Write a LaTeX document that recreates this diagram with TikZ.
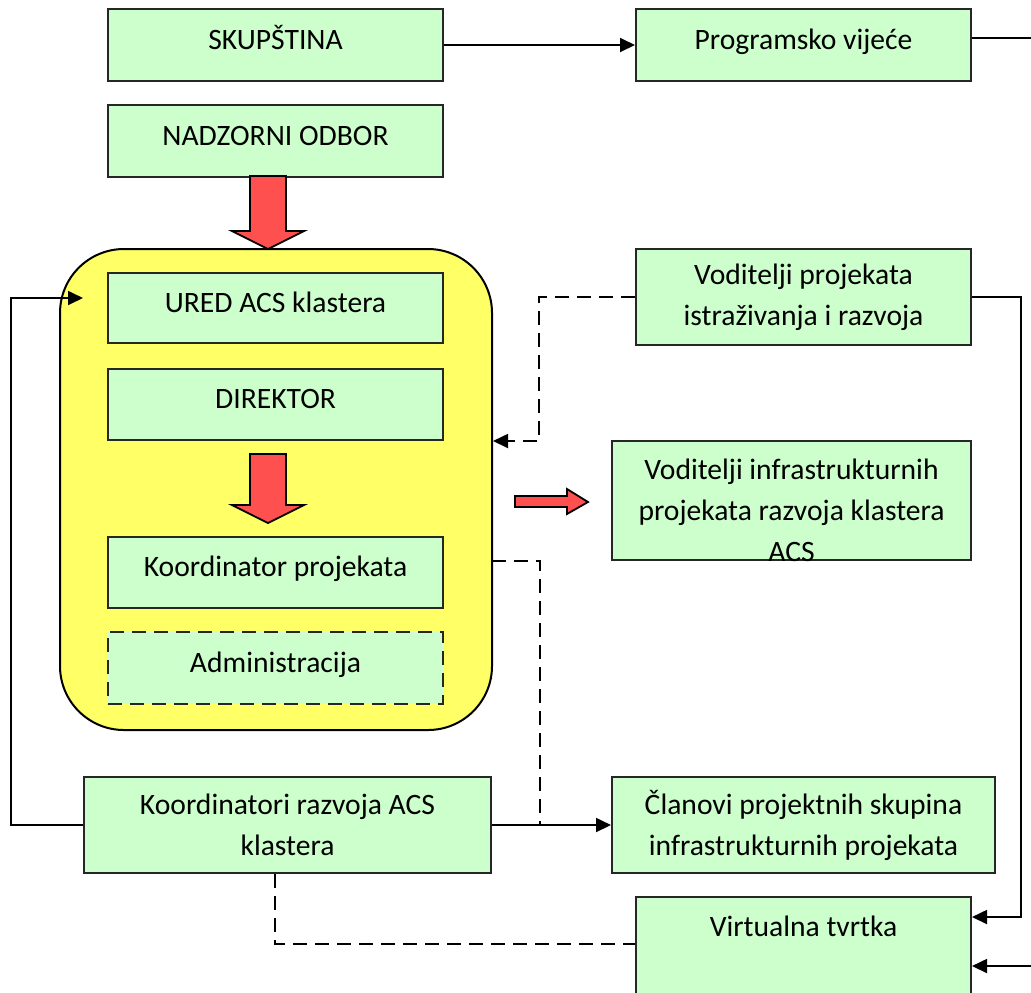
\documentclass[tikz,border=0pt]{standalone}
\usepackage{fontspec}
\setmainfont{Carlito}
\usetikzlibrary{arrows.meta}
\definecolor{boxgreen}{HTML}{CCFFCC}
\definecolor{officeyellow}{HTML}{FFFF66}
\definecolor{arrowred}{HTML}{FF5050}
\tikzset{
	box/.style={draw=black!85,line width=1pt,fill=boxgreen,minimum width=167.5pt,align=center,inner sep=2pt},
	oneline/.style={box,text height=10pt,text depth=6pt},
	link/.style={line width=.9pt},
	tip/.style={-{Triangle[length=7.5pt,width=7pt]}},
	dashlink/.style={link,dash pattern=on 7pt off 4pt},
	bigarrow/.style={draw=black,line width=.9pt,fill=arrowred,line join=miter}
}
\begin{document}
\begin{tikzpicture}[x=.5pt,y=-.5pt,font=\fontsize{14.8}{20.5}\selectfont]
	\useasboundingbox (0,0) rectangle (1031,992);
	\clip (0,0) rectangle (1031,992);
	% top row
	\node[oneline,minimum height=36pt] (skup) at (275.5,45) {SKUPŠTINA};
	\node[oneline,minimum height=36pt] (program) at (803.5,45) {Programsko vijeće};
	\node[oneline,minimum height=36pt] (nadzor) at (275.5,141) {NADZORNI ODBOR};
	% office
	\node[draw=black,line width=1pt,fill=officeyellow,rounded corners=32pt,minimum width=216pt,minimum height=240.5pt] (office) at (276,489.5) {};
	\node[oneline,minimum height=35pt] (ured) at (275.5,308) {URED ACS klastera};
	\node[oneline,minimum height=35.5pt] (direktor) at (275.5,404.5) {DIREKTOR};
	\node[oneline,minimum height=35.5pt] (koordp) at (275.5,572.5) {Koordinator projekata};
	\node[oneline,dash pattern=on 7pt off 4pt,minimum height=36pt] (admin) at (275.5,668) {Administracija};
	% right column
	\node[box,minimum height=48pt] (vodir) at (803.5,297) {Voditelji projekata\\istraživanja i razvoja};
	\node[box,minimum width=179.5pt,minimum height=59.5pt,
		label={[align=center,yshift=-4.75pt]center:{Voditelji infrastrukturnih\\projekata razvoja klastera\\ACS}}] (vinfra) at (791.5,500.5) {};
	\node[box,minimum width=203.5pt,minimum height=48pt] (koordr) at (287.5,825) {Koordinatori razvoja ACS\\klastera};
	\node[box,minimum width=191.5pt,minimum height=48pt] (clanovi) at (803.5,825) {Članovi projektnih skupina\\infrastrukturnih projekata};
	\node[box,minimum height=69pt,label={[anchor=center,yshift=-15pt]north:Virtualna tvrtka}] (virt) at (803.5,966) {};
	% block arrows
	\foreach \t/\b in {176/231,454/505}
		\draw[bigarrow] (250,\t)--(286,\t)--(286,\b)--(304,\b)--(268,\b+18)--(232,\b)--(250,\b)--cycle;
	\draw[bigarrow] (515,496)--(567,496)--(567,489)--(588,502)--(567,514)--(567,507)--(515,507)--cycle;
	% connectors
	\coordinate (uredin) at (83,298);
	\coordinate (kpout) at (492,561);
	\coordinate (join) at (540,825);
	\coordinate (offedge) at (1045,966);
	\draw[link,tip] (skup) -- (program);
	\draw[link] ([yshift=3.5pt]program.east) -- ++(80,0);
	\draw[link,tip] (koordr.west) -- ++(-72,0) |- (uredin);
	\draw[dashlink,tip] (vodir.west) -- ++(-96,0) |- (office.east |- direktor.south);
	\draw[dashlink] (kpout) -| (join);
	\draw[link,tip] (koordr) -- (clanovi);
	\draw[link,tip] (vodir.east) -- ++(49,0) |- ([yshift=24.5pt]virt.east);
	\draw[link,tip] (offedge) -- (virt.east);
	\draw[dashlink] ([xshift=-6.25pt]koordr.south) |- ([yshift=11pt]virt.west);
\end{tikzpicture}
\end{document}
